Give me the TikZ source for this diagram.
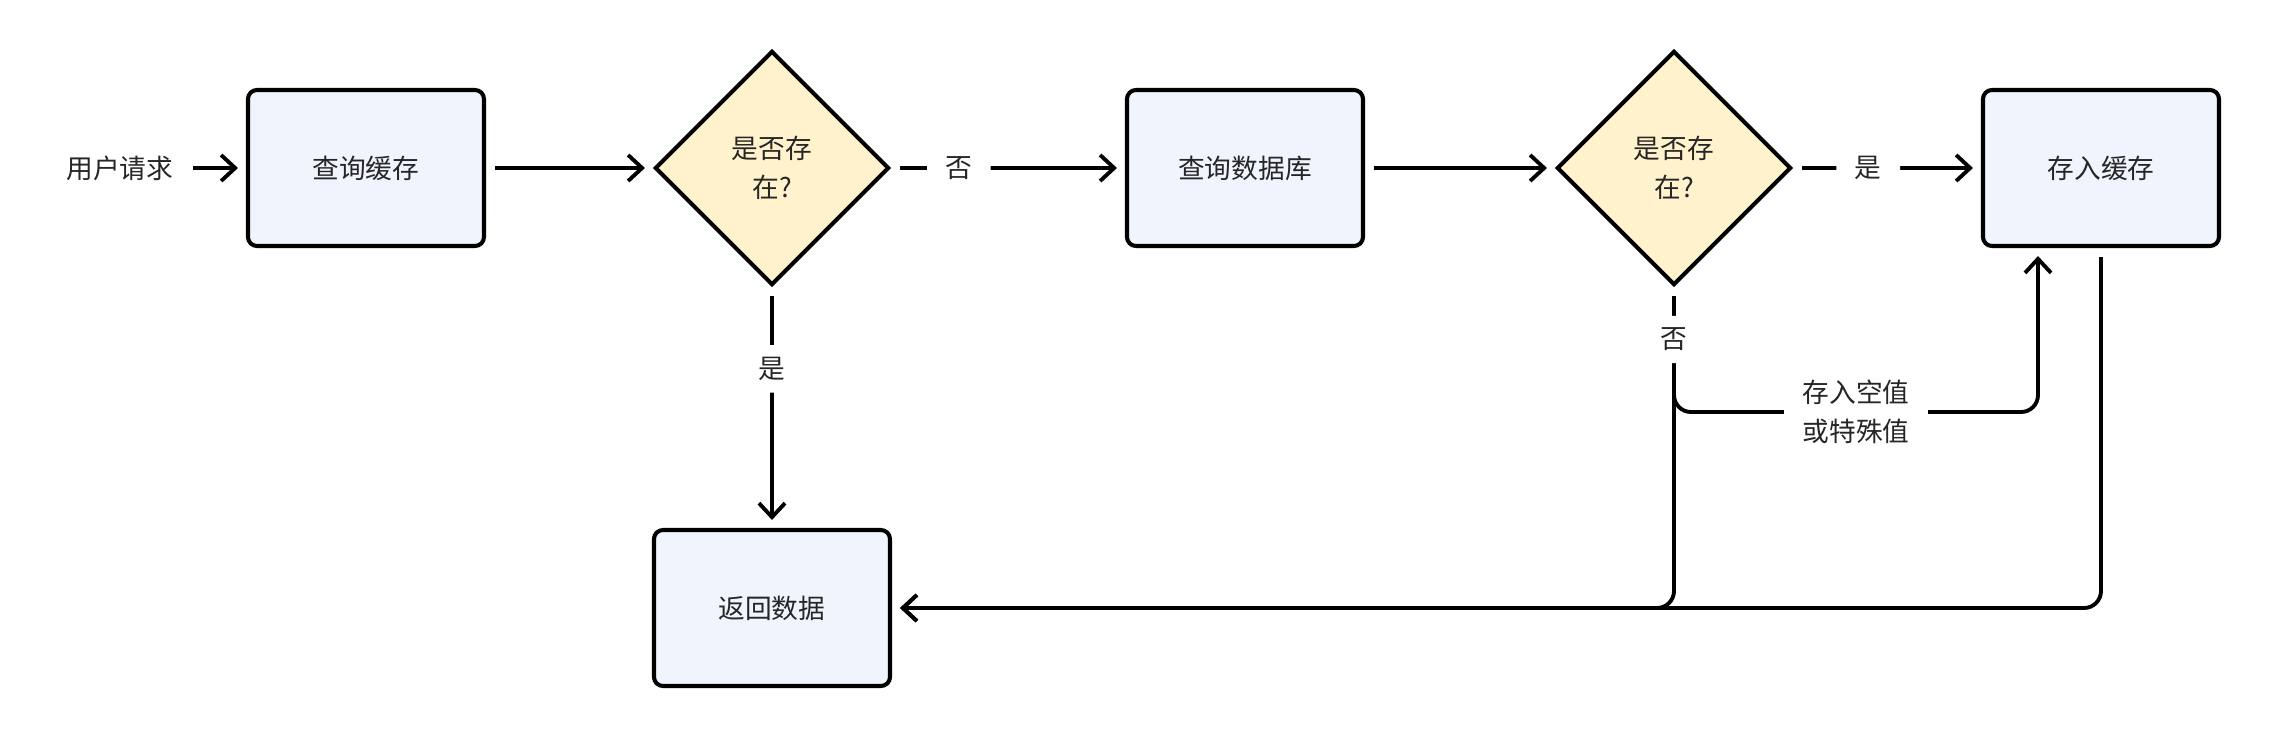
\documentclass[tikz,border=0pt]{standalone}
\usepackage{fontspec}
\setmainfont{Noto Sans CJK SC}
\usepackage{xcolor}
\usepackage{tikz}
\usetikzlibrary{shapes}
\usetikzlibrary{shapes.geometric}
\usetikzlibrary{arrows.meta}
\usetikzlibrary{calc}
\definecolor{procfill}{HTML}{EFF4FD}
\definecolor{condfill}{HTML}{FFF2CC}
\colorlet{ink}{black!85}
\tikzset{
  % node options
  every node/.style={font=\fontsize{7.6pt}{11.1pt}\selectfont,text=ink},
  proc/.style={rectangle,draw,line width=1.15pt,rounded corners=0.9mm,fill=procfill,
    minimum width=2.36cm,minimum height=1.56cm},
  cond/.style={diamond,draw,line width=1.15pt,fill=condfill,aspect=1,
    minimum width=2.34cm,minimum height=2.34cm,inner sep=0pt,align=center},
  plain/.style={inner xsep=1mm,inner ysep=0pt},
  tag/.style={fill=white,inner xsep=1.85mm,inner ysep=1.2mm,align=center},
  % path options
  flow/.style={->,line width=1.1pt,shorten >=0.8mm,shorten <=0.9mm,rounded corners=1.7mm},
  >={Straight Barb[length=1.4mm,width=2.6mm]},
  % matrix options
  row sep={4.4cm,between origins},
  column sep=0pt,
}

\begin{document}
\begin{tikzpicture}
    \matrix {
      \node[plain] (user) {用户请求}; &[2.46cm,between origins]
      \node[proc] (cache) {查询缓存}; &[4.06cm,between origins]
      \node[cond] (hit) {是否存\\在?}; &[4.73cm,between origins]
      \node[proc] (db) {查询数据库}; &[4.29cm,between origins]
      \node[cond] (found) {是否存\\在?}; &[4.27cm,between origins]
      \node[proc] (store) {存入缓存}; \\
      & & \node[proc] (reply) {返回数据}; \\
    };
    \draw[flow] (user) -- (cache);
    \draw[flow] (cache) -- (hit);
    \draw[flow] (hit) -- node[tag,pos=0.29] {否} (db);
    \draw[flow] (hit) -- node[tag,pos=0.34] {是} (reply);
    \draw[flow] (db) -- (found);
    \draw[flow] (found) -- node[tag,pos=0.40] {是} (store);
    % both return paths end in the same arrow
    \draw[flow] (found.south) |- (reply.east);
    \draw[flow] (store.south) |- (reply.east);
    \coordinate (split) at ($(found.south)+(0,-1.25)$);
    \coordinate (back) at ($(store.south)+(-0.63,0)$);
    \draw[flow] (found.south) -- node[tag,pos=0.42] {否} (split)
      -- node[tag] {存入空值\\或特殊值} (split -| back) -- (back);
    \path[use as bounding box] ($(cache.center)+(-3.66,1.68)$) rectangle ($(cache.center)+(19.04,-5.68)$);
  \end{tikzpicture}
\end{document}
